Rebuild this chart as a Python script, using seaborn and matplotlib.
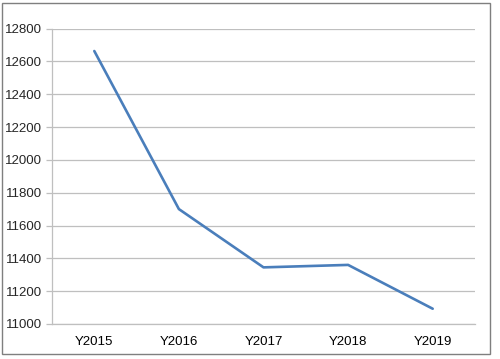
import matplotlib
matplotlib.use("Agg")
import matplotlib.pyplot as plt
import seaborn as sns
import pandas as pd
from matplotlib.patches import Rectangle
from matplotlib.ticker import FixedLocator

years = ["Y2015", "Y2016", "Y2017", "Y2018", "Y2019"]
values = [12663, 11700, 11345, 11360, 11093]
y_ticks = [11000, 11200, 11400, 11600, 11800, 12000, 12200, 12400, 12600, 12800]

sns.set_style("white")
plt.rcParams['font.family'] = ['Liberation Sans', 'DejaVu Sans']

df = pd.DataFrame({"year": years, "value": values})

fig = plt.figure(figsize=(5.0, 3.59), dpi=100)
ax = fig.add_axes([0.104, 0.0975, 0.846, 0.823])
sns.lineplot(data=df, x="year", y="value", ax=ax, color="#4A7EBB", linewidth=1.9, sort=False)

ax.set_xlim(-0.5, len(years) - 0.5)
ax.set_ylim(y_ticks[0], y_ticks[-1])
ax.set_yticks(y_ticks)
ax.set_yticklabels([str(v) for v in y_ticks])
ax.set_xlabel("")
ax.set_ylabel("")
ax.grid(axis="y", color="#BFBFBF", linewidth=0.9)
ax.set_axisbelow(True)
for s in ["top", "right"]:
    ax.spines[s].set_visible(False)
for s in ["left", "bottom"]:
    ax.spines[s].set_color("#BFBFBF")
    ax.spines[s].set_linewidth(0.9)

ax.xaxis.set_minor_locator(FixedLocator([i - 0.5 for i in range(len(years) + 1)]))
ax.tick_params(axis="x", which="major", length=0, pad=9, labelsize=9.5, colors="#000000")
ax.tick_params(axis="x", which="minor", length=4, color="#BFBFBF", width=0.9, direction="out")
ax.tick_params(axis="y", which="major", length=4, color="#BFBFBF", width=0.9, labelsize=9.5, pad=3, left=True)

fig.patches.append(Rectangle((0.004, 0.014), 0.976, 0.978, transform=fig.transFigure,
                             fill=False, edgecolor="#7F7F7F", linewidth=1.0))

fig.savefig("out.png", dpi=100)
